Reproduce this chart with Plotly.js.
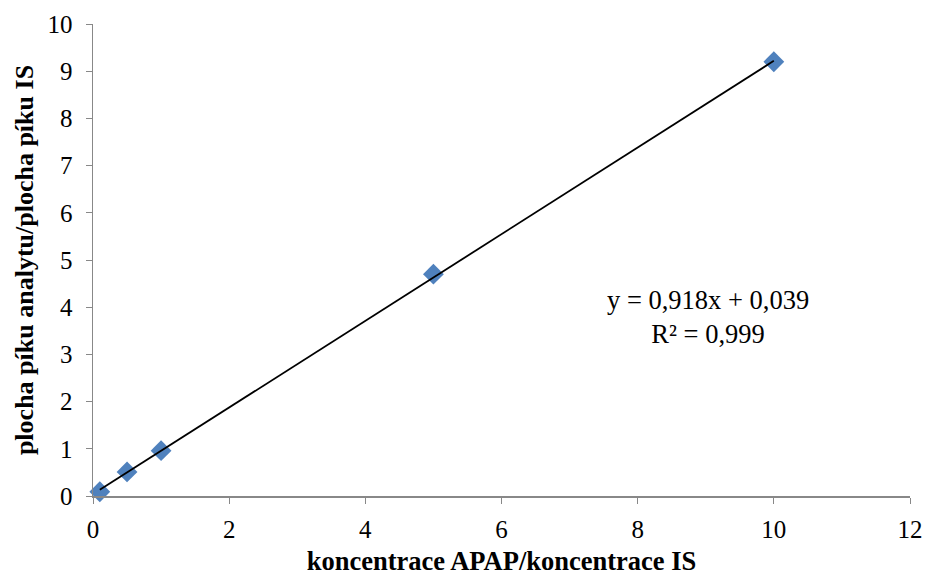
<!DOCTYPE html>
<html><head><meta charset="utf-8">
<script src="https://cdn.plot.ly/plotly-3.0.1.min.js"></script>
<style>html,body{margin:0;padding:0;background:#fff}#c{width:927px;height:576px}</style>
</head><body><div id="c"></div>
<script>
const xVals = [0.1, 0.5, 1, 5, 10];
const yVals = [0.09, 0.51, 0.96, 4.70, 9.20];
const slope = 0.918, intercept = 0.039;
const trendX = [0.1, 10];
const eqText = "y = 0,918x + 0,039<br>R² = 0,999";
const xTitle = "koncentrace APAP/koncentrace IS";
const yTitle = "plocha píku analytu/plocha píku IS";

const font = "'Liberation Serif', 'Times New Roman', serif";
const traces = [
  {x: xVals, y: yVals, type: 'scatter', mode: 'markers',
   marker: {symbol: 'diamond', size: 16, color: '#4F81BD'}, cliponaxis: false},
  {x: trendX, y: trendX.map(v => slope*v + intercept), type: 'scatter', mode: 'lines',
   line: {color: '#000', width: 1.8}}
];
const layout = {
  width: 927, height: 576, showlegend: false,
  paper_bgcolor: '#fff', plot_bgcolor: '#fff',
  margin: {l: 93, r: 17, t: 24, b: 80},
  font: {family: font, color: '#000', size: 25},
  xaxis: {range: [0, 12], dtick: 2, showgrid: false, zeroline: false,
    showline: true, linecolor: '#888', linewidth: 1.5, ticks: 'outside', ticklen: 6, tickcolor: '#888',
    tickfont: {family: font, size: 25}, ticklabelstandoff: 4,
    title: {text: '<b>' + xTitle + '</b>', font: {family: font, size: 26.5}, standoff: 16}},
  yaxis: {range: [0, 10], dtick: 1, showgrid: false, zeroline: false,
    showline: true, linecolor: '#888', linewidth: 1.5, ticks: 'outside', ticklen: 6, tickcolor: '#888',
    tickfont: {family: font, size: 25}, ticklabelstandoff: 8,
    title: {text: '<b>' + yTitle + '</b>', font: {family: font, size: 26}, standoff: 6}},
  annotations: [{x: 9.03, y: 3.8, xref: 'x', yref: 'y', text: eqText, showarrow: false,
    font: {family: font, size: 26.5}, align: 'center'}]
};
Plotly.newPlot('c', traces, layout, {displayModeBar: false, staticPlot: true});
</script></body></html>
